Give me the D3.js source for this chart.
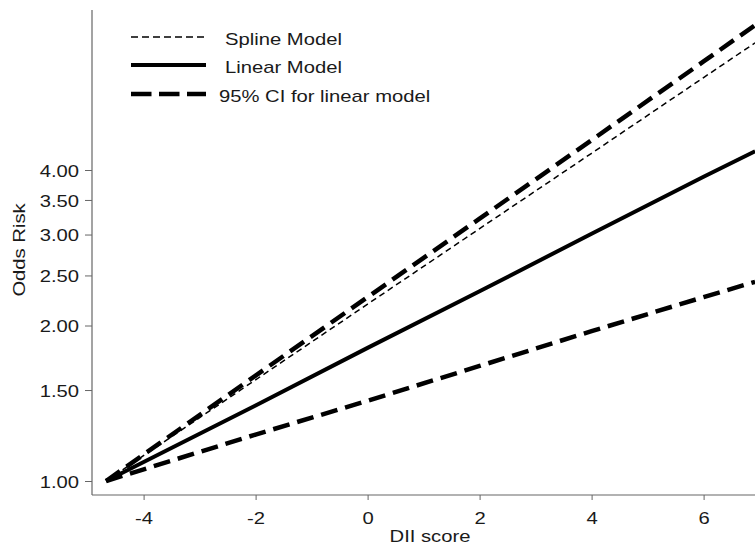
<!DOCTYPE html>
<html>
<head>
<meta charset="utf-8">
<script src="https://cdn.jsdelivr.net/npm/d3@7"></script>
<style>
  body { margin: 0; background: #fff; }
  svg text { font-family: "Liberation Sans", Arial, sans-serif; font-size: 17px; fill: #1a1a1a; }
</style>
</head>
<body>
<svg id="canvas"></svg>
<script>
// DII score positions and odds ratios
let dii       = [-4.67, -2, 0, 2, 4, 6, 6.92];
let splineOR  = [1.00, 1.57, 2.20, 3.08, 4.31, 6.04, 7.05];
let linearOR  = [1.00, 1.40, 1.81, 2.33, 3.01, 3.88, 4.35];
let ciUpperOR = [1.00, 1.60, 2.27, 3.22, 4.57, 6.49, 7.63];
let ciLowerOR = [1.00, 1.23, 1.43, 1.67, 1.95, 2.27, 2.43];

let xTicks = [-4, -2, 0, 2, 4, 6];
let yTicks = [1, 1.5, 2, 2.5, 3, 3.5, 4];

let legendLabels = ["Spline Model", "Linear Model", "95% CI for linear model"];

let width = 755;
let height = 545;
let axisX = 92;
let axisY = 495;
let stretch = 1.19;

let canvas = d3.select("#canvas");
canvas.attr("width", width);
canvas.attr("height", height);

let xScale = d3.scaleLinear().domain([-4, 6]).range([143.6, 703.6]);
let yScale = d3.scaleLog().domain([1, 4]).range([481, 170]);

let styles = {
    spline: { w: 1.5, dash: "6,4" },
    linear: { w: 4, dash: null },
    ci:     { w: 4.5, dash: "17,8" }
};

let drawAxes = () => {
    let xAxis = d3.axisBottom(xScale).tickValues(xTicks).tickSize(5)
                  .tickFormat(d => String(d));
    let gx = canvas.append("g")
          .attr("id", "x-axis")
          .attr("transform", "translate(0," + axisY + ")")
          .call(xAxis);
    gx.select(".domain").remove();
    gx.selectAll("line").attr("stroke", "#666");
    gx.selectAll("text")
      .attr("dy", null).attr("y", 0)
      .style("font-size", "17px").style("font-family", null)
      .attr("transform", "translate(0,29) scale(" + stretch + ",1)");

    let yAxis = d3.axisLeft(yScale).tickValues(yTicks).tickFormat(d3.format(".2f")).tickSize(7);
    let gy = canvas.append("g")
          .attr("id", "y-axis")
          .attr("transform", "translate(" + axisX + ",0)")
          .call(yAxis);
    gy.select(".domain").remove();
    gy.selectAll("line").attr("stroke", "#666");
    gy.selectAll("text")
      .attr("dy", "0.36em").attr("x", 0)
      .style("font-size", "17px").style("font-family", null)
      .attr("transform", "translate(-13,0) scale(" + stretch + ",1)");

    canvas.append("line")
          .attr("x1", axisX).attr("x2", axisX)
          .attr("y1", 10).attr("y2", axisY)
          .attr("stroke", "#666").attr("stroke-width", 1.2);
    canvas.append("line")
          .attr("x1", axisX).attr("x2", width)
          .attr("y1", axisY).attr("y2", axisY)
          .attr("stroke", "#666").attr("stroke-width", 1.2);

    canvas.append("text")
          .attr("text-anchor", "middle")
          .attr("transform", "translate(430,542) scale(" + stretch + ",1)")
          .text("DII score");

    canvas.append("text")
          .attr("text-anchor", "middle")
          .attr("transform", "translate(25,250) rotate(-90) scale(" + stretch + ",1)")
          .text("Odds Risk");
};

let drawLines = () => {
    let line = d3.line()
        .x(d => xScale(d[0]))
        .y(d => yScale(d[1]));

    let series = [
        { vals: ciLowerOR, s: styles.ci },
        { vals: linearOR, s: styles.linear },
        { vals: ciUpperOR, s: styles.ci },
        { vals: splineOR, s: styles.spline }
    ];

    canvas.append("g").selectAll("path")
          .data(series)
          .enter()
          .append("path")
          .attr("d", d => line(dii.map((x, i) => [x, d.vals[i]])))
          .attr("fill", "none")
          .attr("stroke", "#000")
          .attr("stroke-width", d => d.s.w)
          .attr("stroke-dasharray", d => d.s.dash);
};

let drawLegend = () => {
    let rows = [
        { s: styles.spline, y: 37, tx: 225, dash: "7,4" },
        { s: styles.linear, y: 65, tx: 225, dash: null },
        { s: styles.ci, y: 94, tx: 219, dash: "20.5,7.5" }
    ];
    let g = canvas.append("g").attr("id", "legend");
    rows.forEach((r, i) => {
        g.append("line")
         .attr("x1", 131).attr("x2", 206)
         .attr("y1", r.y).attr("y2", r.y)
         .attr("stroke", "#000")
         .attr("stroke-width", r.s.w)
         .attr("stroke-dasharray", r.dash);
        g.append("text")
         .attr("transform", "translate(" + r.tx + "," + (r.y + 7.5) + ") scale(" + stretch + ",1)")
         .text(legendLabels[i]);
    });
};

drawAxes();
drawLines();
drawLegend();
</script>
</body>
</html>
